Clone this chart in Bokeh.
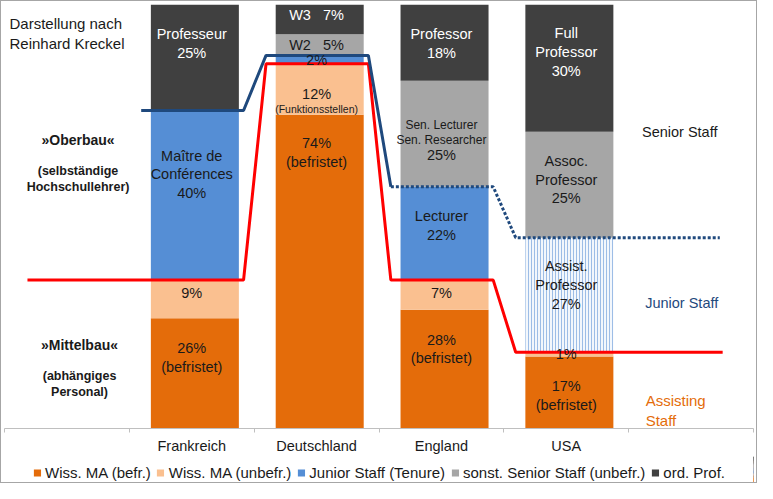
from bokeh.plotting import figure
from bokeh.layouts import column
from bokeh.models import Range1d, FixedTicker, Legend, LegendItem, ColumnDataSource
from bokeh.embed import file_html
from bokeh.resources import INLINE
from bokeh.core.properties import value

# ---------------- data ----------------
categories = ["Frankreich", "Deutschland", "England", "USA"]
befr = [26, 74, 28, 17]        # Wiss. MA (befr.)
unbefr = [9, 12, 7, 1]         # Wiss. MA (unbefr.)
junior = [40, 2, 22, 27]       # Junior Staff
senior = [0, 5, 25, 25]        # sonst. Senior Staff (unbefr.)
prof = [25, 7, 18, 30]         # ord. Prof.

series_names = ["Wiss. MA (befr.)", "Wiss. MA (unbefr.)", "Junior Staff (Tenure)",
                "sonst. Senior Staff (unbefr.)", "ord. Prof."]
prof_titles = ["Professeur", "W3", "Professor", "Full\nProfessor"]
senior_titles = ["", "W2", "Sen. Lecturer\nSen. Researcher", "Assoc.\nProfessor"]
junior_titles = ["Maître de\nConférences", "", "Lecturer", "Assist.\nProfessor"]
befr_note = "(befristet)"
unbefr_note_de = "(Funktionsstellen)"

# ---------------- style ----------------
C_BEFR = "#E46C0A"
C_UNBEFR = "#FAC090"
C_JUNIOR = "#558ED5"
C_SENIOR = "#A6A6A6"
C_PROF = "#404040"
C_RED = "#FF0000"
C_NAVY = "#1F497D"
TXT = "#1a1a1a"
FONT = value("Liberation Sans")
GAP = "\u00a0\u00a0\u00a0"
series_colors = [C_BEFR, C_UNBEFR, C_JUNIOR, C_SENIOR, C_PROF]

n = len(categories)
slots = [i + 1 for i in range(n)]               # slots 1..4 of 0..6
xc = [s + 0.525 for s in slots]                 # bar centres
xl = [s + 0.5 for s in slots]                   # label centres
BW = 0.705

c0 = [0] * n
c1 = befr[:]
c2 = [a + b for a, b in zip(c1, unbefr)]
c3 = [a + b for a, b in zip(c2, junior)]
c4 = [a + b for a, b in zip(c3, senior)]
c5 = [a + b for a, b in zip(c4, prof)]
series_bounds = [(c0, c1), (c1, c2), (c2, c3), (c3, c4), (c4, c5)]

p = figure(width=755, height=455, x_range=Range1d(0, 6), y_range=Range1d(0, 100),
           toolbar_location=None, output_backend="svg", y_axis_location=None,
           min_border_left=3, min_border_right=3, min_border_top=3, min_border_bottom=26)
p.outline_line_color = None
p.xgrid.visible = False
p.ygrid.visible = False
p.background_fill_color = "white"
p.border_fill_color = "white"

p.vbar(x=xc, bottom=c0, top=c1, width=BW, fill_color=C_BEFR, line_color=None)
p.vbar(x=xc, bottom=c1, top=c2, width=BW, fill_color=C_UNBEFR, line_color=None)
p.vbar(x=xc[:3], bottom=c2[:3], top=c3[:3], width=BW, fill_color=C_JUNIOR, line_color=None)
p.vbar(x=xc[3:], bottom=c2[3:], top=c3[3:], width=BW, fill_color="#f3f7fc", line_color=None,
       hatch_pattern="vertical_line", hatch_color="#9dbde6", hatch_scale=3, hatch_weight=1)
p.vbar(x=xc, bottom=c3, top=c4, width=BW, fill_color=C_SENIOR, line_color=None)
p.vbar(x=xc, bottom=c4, top=c5, width=BW, fill_color=C_PROF, line_color=None)

# ---------------- boundary lines ----------------
L_OFF, R_OFF = 0.43, 0.39
red = c2
blue = c3
red_x = [0.184, xc[0] + R_OFF, xc[1] - L_OFF, xc[1] + R_OFF, xc[2] - L_OFF, xc[2] + R_OFF, xc[3] - L_OFF, 5.753]
red_y = [red[0], red[0], red[1], red[1], red[2], red[2], red[3], red[3]]
p.line(red_x, red_y, line_color=C_RED, line_width=3)
blue_x = [xc[0] - L_OFF, xc[0] + R_OFF, xc[1] - L_OFF, xc[1] + R_OFF, xc[2] - L_OFF]
blue_y = [blue[0], blue[0], blue[1], blue[1], blue[2]]
p.line(blue_x, blue_y, line_color=C_NAVY, line_width=3)
bd_x = [xc[2] - L_OFF, xc[2] + R_OFF, xc[3] - L_OFF, 5.73]
bd_y = [blue[2], blue[2], blue[3], blue[3]]
p.line(bd_x, bd_y, line_color=C_NAVY, line_width=3, line_dash="3 2")

# ---------------- bar labels ----------------
def mid(a, b):
    return [(x + y) / 2 for x, y in zip(a, b)]

m_befr, m_unb, m_jun, m_sen, m_prof = mid(c0, c1), mid(c1, c2), mid(c2, c3), mid(c3, c4), mid(c4, c5)

white_lbl = dict(x=[], y=[], t=[], o=[])
dark_lbl = dict(x=[], y=[], t=[], o=[])

def add(d, x, y, t, o):
    d["x"].append(x); d["y"].append(y); d["t"].append(t); d["o"].append(o)

prof_off = [-14, -4, 1, -16]
for i in range(n):
    if i == 1:
        t = f"{prof_titles[i]}{GAP}{prof[i]}%"
    else:
        t = f"{prof_titles[i]}\n{prof[i]}%"
    add(white_lbl, xl[i], m_prof[i], t, prof_off[i])
add(dark_lbl, xl[1], m_sen[1], f"{senior_titles[1]}{GAP}{senior[1]}%", 0)
add(dark_lbl, xl[2], m_sen[2], f"{senior[2]}%", 21)
add(dark_lbl, xl[3], m_sen[3], f"{senior_titles[3]}\n{senior[3]}%", -5)
jun_off = [-21, 0, -8, -10]
for i in range(n):
    t = f"{junior_titles[i]}\n{junior[i]}%" if junior_titles[i] else f"{junior[i]}%"
    add(dark_lbl, xl[i], m_jun[i], t, jun_off[i])
unb_off = [-6, 5, -2, 0]
for i in range(n):
    add(dark_lbl, xl[i], m_unb[i], f"{unbefr[i]}%", unb_off[i])
befr_off = [-16, -119, -20, 3]
for i in range(n):
    add(dark_lbl, xl[i], m_befr[i], f"{befr[i]}%\n{befr_note}", befr_off[i])

for d, col in ((white_lbl, "white"), (dark_lbl, TXT)):
    src = ColumnDataSource(dict(x=d["x"], y=d["y"], text=d["t"], off=d["o"]))
    p.text(x="x", y="y", text="text", y_offset="off", source=src, text_align="center",
           text_baseline="middle", text_font=FONT, text_font_size="14.5px",
           text_color=col, text_line_height=1.17)

p.text(x=[xl[2]], y=[m_sen[2]], text=[senior_titles[2]], y_offset=[-1.5], text_align="center",
       text_baseline="middle", text_font=FONT, text_font_size="12px", text_color=TXT,
       text_line_height=1.1)
p.text(x=[xl[1]], y=[m_unb[1]], text=[unbefr_note_de], y_offset=[20], text_align="center",
       text_baseline="middle", text_font=FONT, text_font_size="10.5px", text_color=TXT)

# ---------------- annotations ----------------
def note(x, y, t, size, color=TXT, align="center", style="normal"):
    p.text(x=[x], y=[y], text=[t], text_align=align, text_baseline="middle",
           text_font=FONT, text_font_size=size, text_color=color,
           text_font_style=style, text_line_height=1.15)

note(0.04, 93.1, "Darstellung nach\nReinhard Kreckel", "15px", align="left")
note(0.589, 68.1, "»Oberbau«", "14px", style="bold")
note(0.589, 58.8, "(selbständige\nHochschullehrer)", "12.5px", style="bold")
note(0.601, 19.7, "»Mittelbau«", "14px", style="bold")
note(0.601, 10.6, "(abhängiges\nPersonal)", "12.5px", style="bold")
note(5.409, 70.0, "Senior Staff", "14.5px", color=TXT)
note(5.425, 29.6, "Junior Staff", "14.5px", color=C_NAVY)
note(5.136, 4.2, "Assisting\nStaff", "15px", color=C_BEFR, align="left")

# ---------------- axis ----------------
ax = p.xaxis[0]
ax.ticker = FixedTicker(ticks=xl, minor_ticks=list(range(0, 7)))
ax.major_label_overrides = {x: c for x, c in zip(xl, categories)}
ax.major_tick_out = 0
ax.major_tick_in = 0
ax.minor_tick_out = 4
ax.minor_tick_in = 0
ax.minor_tick_line_color = "#bfbfbf"
ax.axis_line_color = "#bfbfbf"
ax.major_label_standoff = 5
ax.major_label_text_font = "Liberation Sans"
ax.major_label_text_font_size = "14.5px"
ax.major_label_text_color = TXT

# ---------------- legend (separate strip below) ----------------
# the strip's x range (0..1) lies left of every bar, so its bars stay out of view
lg = figure(width=755, height=26, x_range=Range1d(0, 1), y_range=Range1d(0, 100),
            toolbar_location=None, output_backend="svg", x_axis_location=None,
            y_axis_location=None, min_border=0)
lg.outline_line_color = None
lg.xgrid.visible = False
lg.ygrid.visible = False
items = []
for name, col, (lo, hi) in zip(series_names, series_colors, series_bounds):
    r = lg.vbar(x=xc, bottom=lo, top=hi, width=BW, fill_color=col, line_color=None)
    items.append(LegendItem(label=name, renderers=[r]))
legend = Legend(items=items, orientation="horizontal", location="bottom_center")
legend.glyph_width = 9
legend.glyph_height = 9
legend.label_standoff = 4
legend.spacing = 5
legend.padding = 0
legend.margin = 1
legend.label_height = 16
legend.border_line_color = None
legend.background_fill_alpha = 0
legend.label_text_font = "Liberation Sans"
legend.label_text_font_size = "15px"
legend.label_text_color = TXT
lg.add_layout(legend, "center")

layout = column(p, lg, styles={"border": "1px solid #a6a6a6"})
open("out.html", "w").write(file_html(layout, INLINE))
